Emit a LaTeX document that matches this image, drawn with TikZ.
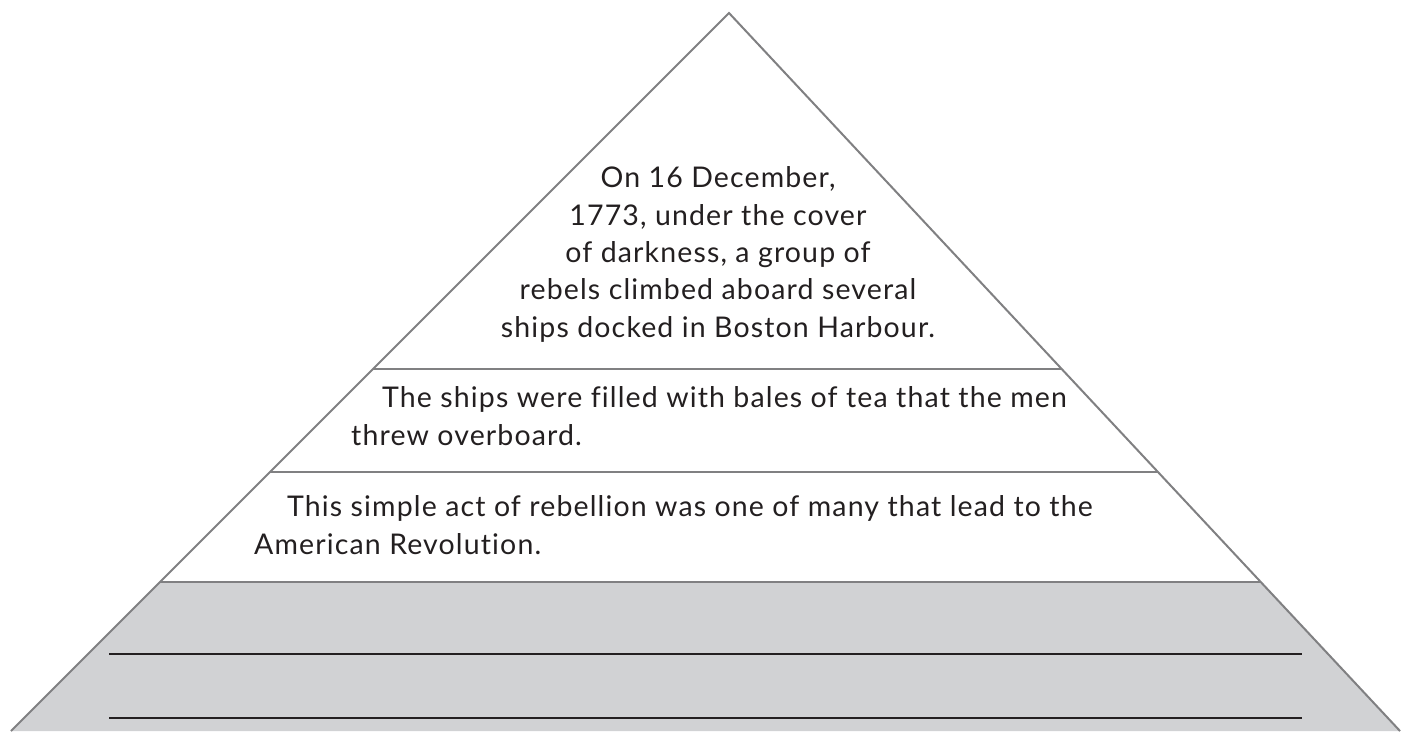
\documentclass[tikz,border=0pt]{standalone}
\usepackage{fontspec}
\setmainfont{Lato}[LetterSpace=4.0, Ligatures=NoCommon]
\usepackage{tikz}
\usetikzlibrary{positioning, calc}
\definecolor{edge}{RGB}{128,128,130}
\definecolor{ink}{RGB}{35,31,32}
\definecolor{bandgrey}{RGB}{209,210,212}

\tikzset{
  tierline/.style={edge, line width=2.3pt},
  sideline/.style={edge, line width=2pt},
  writeline/.style={ink, line width=2.3pt},
  tiertext/.style={text=ink, inner sep=0pt, font=\fontsize{28.5}{37.3}\selectfont}
}

\begin{document}
\begin{tikzpicture}[x=1pt, y=-1pt]
  \useasboundingbox (0,0) rectangle (1412,731);
  % corners of the pyramid
  \coordinate (apex) at (729,13);
  \coordinate (baseL) at (11,731);
  \coordinate (baseR) at (1400,731);
  \coordinate (t1L) at (373,369);  \coordinate (t1R) at (1062,369);
  \coordinate (t2L) at (270,472);  \coordinate (t2R) at (1158,472);
  \coordinate (t3L) at (160,582);  \coordinate (t3R) at (1261,582);
  % grey writing band
  \fill[bandgrey] (t3L) -- (t3R) -- (baseR) -- (baseL) -- cycle;
  \draw[writeline] (109,654) coordinate (w1L) -- (1302,654) coordinate (w1R);
  \draw[writeline] (109,718) coordinate (w2L) -- (1302,718) coordinate (w2R);
  % outline and tiers
  \draw[sideline] (baseL) -- (apex) -- (baseR);
  \draw[tierline] (t1L) -- (t1R);
  \draw[tierline] (t2L) -- (t2R);
  \draw[tierline] (t3L) -- (t3R);
  % texts (base anchor sits on the last line)
  \node[tiertext, align=center, anchor=base] (top) at (718,337)
    {On 16 December,\\1773, under the cover\\of darkness, a group of\\rebels climbed aboard several\\ships docked in Boston Harbour.};
  \node[tiertext, align=left, anchor=base west] (mid) at (351,445)
    {\hspace*{31pt}The ships were filled with bales of tea that the men\\threw overboard.};
  \node[tiertext, align=left, anchor=base west] (low) at (254,554)
    {\hspace*{33pt}This simple act of rebellion was one of many that lead to the\\American Revolution.};
\end{tikzpicture}
\end{document}
